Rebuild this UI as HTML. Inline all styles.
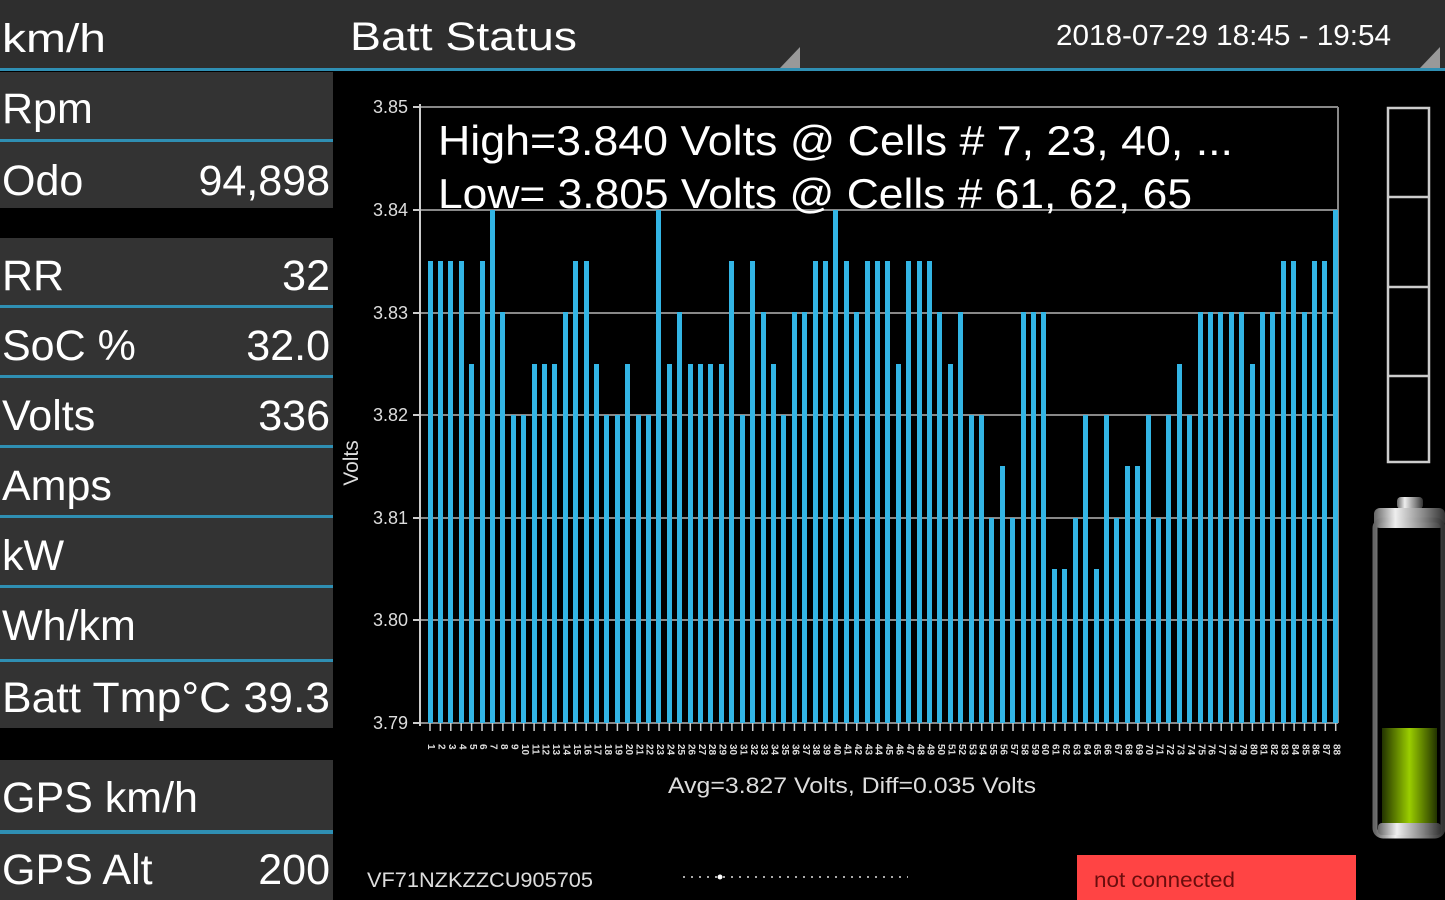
<!DOCTYPE html>
<html><head><meta charset="utf-8"><style>
html,body{margin:0;padding:0;background:#000;}
body{width:1445px;height:900px;position:relative;overflow:hidden;font-family:"Liberation Sans",sans-serif;}
#bars{position:absolute;left:424.8px;top:0;width:916px;height:723px;display:flex;align-items:flex-end;}
#bars div{flex:0 0 10.41px;height:100%;display:flex;align-items:flex-end;justify-content:center;}
#bars div i{display:block;width:5px;background:#33b5e5;}
#xl{position:absolute;left:424.8px;top:744px;width:916px;display:flex;}
#xl span{flex:0 0 10.41px;writing-mode:vertical-rl;font-size:10px;font-weight:bold;color:#ddd;line-height:10.41px;text-align:left;}
</style></head><body>
<svg width="1445" height="900" style="position:absolute;left:0;top:0" xmlns="http://www.w3.org/2000/svg" font-family="Liberation Sans, sans-serif">
<rect x="0" y="0" width="1445" height="900" fill="#000"/>
<rect x="0" y="0" width="1445" height="69" fill="#2e2e2e"/>
<rect x="0" y="68" width="1445" height="3" fill="#2f8fb3"/>
<polygon points="780,68 800,68 800,47" fill="#999"/>
<polygon points="1420,68 1440,68 1440,47" fill="#999"/>
<text x="2" y="52" font-size="40" fill="#fff" textLength="104" lengthAdjust="spacingAndGlyphs">km/h</text>
<text x="350" y="50" font-size="40" fill="#fff" textLength="227" lengthAdjust="spacingAndGlyphs">Batt Status</text>
<text x="1056" y="45" font-size="29" fill="#fff" textLength="335" lengthAdjust="spacingAndGlyphs">2018-07-29 18:45 - 19:54</text>
<g fill="#333">
<rect x="0" y="72" width="333" height="67"/>
<rect x="0" y="142" width="333" height="66"/>
<rect x="0" y="238" width="333" height="67"/>
<rect x="0" y="308" width="333" height="67"/>
<rect x="0" y="378" width="333" height="67"/>
<rect x="0" y="448" width="333" height="67"/>
<rect x="0" y="518" width="333" height="67"/>
<rect x="0" y="588" width="333" height="71"/>
<rect x="0" y="662" width="333" height="66"/>
<rect x="0" y="760" width="333" height="70"/>
<rect x="0" y="834" width="333" height="66"/>
</g>
<g fill="#2f8fb3">
<rect x="0" y="139" width="333" height="3"/>
<rect x="0" y="305" width="333" height="3"/>
<rect x="0" y="375" width="333" height="3"/>
<rect x="0" y="445" width="333" height="3"/>
<rect x="0" y="515" width="333" height="3"/>
<rect x="0" y="585" width="333" height="3"/>
<rect x="0" y="659" width="333" height="3"/>
<rect x="0" y="830" width="333" height="4"/>
</g>
<g font-size="43" fill="#fff">
<text x="2" y="123">Rpm</text>
<text x="2" y="195">Odo</text><text x="330" y="195" text-anchor="end">94,898</text>
<text x="2" y="290">RR</text><text x="330" y="290" text-anchor="end">32</text>
<text x="2" y="360">SoC %</text><text x="330" y="360" text-anchor="end">32.0</text>
<text x="2" y="430">Volts</text><text x="330" y="430" text-anchor="end">336</text>
<text x="2" y="500">Amps</text>
<text x="2" y="570">kW</text>
<text x="2" y="640">Wh/km</text>
<text x="2" y="712" textLength="328" lengthAdjust="spacingAndGlyphs">Batt Tmp°C 39.3</text>
<text x="2" y="812">GPS km/h</text>
<text x="2" y="884">GPS Alt</text><text x="330" y="884" text-anchor="end">200</text>
</g>
<g stroke="#888" stroke-width="2">
<line x1="420" y1="107" x2="1338" y2="107"/>
<line x1="1338" y1="107" x2="1338" y2="723"/>
<line x1="420" y1="210" x2="1338" y2="210"/>
<line x1="420" y1="313" x2="1338" y2="313"/>
<line x1="420" y1="415" x2="1338" y2="415"/>
<line x1="420" y1="518" x2="1338" y2="518"/>
<line x1="420" y1="620" x2="1338" y2="620"/>
<line x1="420" y1="723" x2="1338" y2="723"/>
</g>
<g stroke="#ccc" stroke-width="2">
<line x1="420" y1="104" x2="420" y2="726"/>
<line x1="413" y1="107" x2="420" y2="107"/>
<line x1="413" y1="210" x2="420" y2="210"/>
<line x1="413" y1="313" x2="420" y2="313"/>
<line x1="413" y1="415" x2="420" y2="415"/>
<line x1="413" y1="518" x2="420" y2="518"/>
<line x1="413" y1="620" x2="420" y2="620"/>
<line x1="413" y1="723" x2="420" y2="723"/>
</g>
<g font-size="18" fill="#ddd" text-anchor="end">
<text x="408" y="113">3.85</text><text x="408" y="216">3.84</text><text x="408" y="319">3.83</text>
<text x="408" y="421">3.82</text><text x="408" y="524">3.81</text><text x="408" y="626">3.80</text><text x="408" y="729">3.79</text>
</g>
<text transform="translate(358,463) rotate(-90)" font-size="21" fill="#ddd" text-anchor="middle">Volts</text>
<text x="852" y="793" font-size="22" fill="#ddd" text-anchor="middle" textLength="368" lengthAdjust="spacingAndGlyphs">Avg=3.827 Volts, Diff=0.035 Volts</text>
<text x="367" y="887" font-size="21" fill="#ddd" textLength="226" lengthAdjust="spacingAndGlyphs">VF71NZKZZCU905705</text>
<line x1="683" y1="877" x2="908" y2="877" stroke="#aaa" stroke-width="2" stroke-dasharray="2,6"/>
<circle cx="720" cy="877" r="2.5" fill="#fff"/>
<rect x="1077" y="855" width="279" height="45" fill="#ff4444"/>
<text x="1094" y="887" font-size="21" fill="#6a0d0d" textLength="141" lengthAdjust="spacingAndGlyphs">not connected</text>
<g fill="none" stroke="#ccc" stroke-width="2.5">
<rect x="1388" y="108" width="41" height="354"/>
<line x1="1388" y1="197" x2="1429" y2="197"/>
<line x1="1388" y1="287" x2="1429" y2="287"/>
<line x1="1388" y1="376" x2="1429" y2="376"/>
</g>
<defs>
<linearGradient id="g1" x1="0" x2="1"><stop offset="0" stop-color="#223300"/><stop offset="0.5" stop-color="#9acd00"/><stop offset="1" stop-color="#223300"/></linearGradient>
<linearGradient id="g2" x1="0" x2="1"><stop offset="0" stop-color="#666"/><stop offset="0.3" stop-color="#eee"/><stop offset="0.7" stop-color="#888"/><stop offset="1" stop-color="#333"/></linearGradient>
</defs>
<rect x="1397" y="497" width="26" height="12" rx="4" fill="url(#g2)"/>
<rect x="1374" y="508" width="71" height="20" rx="6" fill="url(#g2)"/>
<rect x="1375" y="520" width="68" height="316" rx="8" fill="none" stroke="url(#g2)" stroke-width="5"/>
<rect x="1382" y="728" width="55" height="97" fill="url(#g1)"/>
<rect x="1378" y="823" width="63" height="12" rx="4" fill="url(#g2)"/>
</svg>
<div id="bars">
<div><i style="height:462px"></i></div><div><i style="height:462px"></i></div><div><i style="height:462px"></i></div><div><i style="height:462px"></i></div><div><i style="height:359px"></i></div><div><i style="height:462px"></i></div><div><i style="height:513px"></i></div><div><i style="height:411px"></i></div><div><i style="height:308px"></i></div><div><i style="height:308px"></i></div>
<div><i style="height:359px"></i></div><div><i style="height:359px"></i></div><div><i style="height:359px"></i></div><div><i style="height:411px"></i></div><div><i style="height:462px"></i></div><div><i style="height:462px"></i></div><div><i style="height:359px"></i></div><div><i style="height:308px"></i></div><div><i style="height:308px"></i></div><div><i style="height:359px"></i></div>
<div><i style="height:308px"></i></div><div><i style="height:308px"></i></div><div><i style="height:513px"></i></div><div><i style="height:359px"></i></div><div><i style="height:411px"></i></div><div><i style="height:359px"></i></div><div><i style="height:359px"></i></div><div><i style="height:359px"></i></div><div><i style="height:359px"></i></div><div><i style="height:462px"></i></div>
<div><i style="height:308px"></i></div><div><i style="height:462px"></i></div><div><i style="height:411px"></i></div><div><i style="height:359px"></i></div><div><i style="height:308px"></i></div><div><i style="height:411px"></i></div><div><i style="height:411px"></i></div><div><i style="height:462px"></i></div><div><i style="height:462px"></i></div><div><i style="height:513px"></i></div>
<div><i style="height:462px"></i></div><div><i style="height:411px"></i></div><div><i style="height:462px"></i></div><div><i style="height:462px"></i></div><div><i style="height:462px"></i></div>
<div><i style="height:359px"></i></div><div><i style="height:462px"></i></div><div><i style="height:462px"></i></div><div><i style="height:462px"></i></div><div><i style="height:411px"></i></div><div><i style="height:359px"></i></div><div><i style="height:411px"></i></div><div><i style="height:308px"></i></div><div><i style="height:308px"></i></div><div><i style="height:205px"></i></div>
<div><i style="height:257px"></i></div><div><i style="height:205px"></i></div><div><i style="height:411px"></i></div><div><i style="height:411px"></i></div><div><i style="height:411px"></i></div><div><i style="height:154px"></i></div><div><i style="height:154px"></i></div><div><i style="height:205px"></i></div><div><i style="height:308px"></i></div><div><i style="height:154px"></i></div>
<div><i style="height:308px"></i></div><div><i style="height:205px"></i></div><div><i style="height:257px"></i></div><div><i style="height:257px"></i></div><div><i style="height:308px"></i></div><div><i style="height:205px"></i></div><div><i style="height:308px"></i></div><div><i style="height:359px"></i></div><div><i style="height:308px"></i></div><div><i style="height:411px"></i></div>
<div><i style="height:411px"></i></div><div><i style="height:411px"></i></div><div><i style="height:411px"></i></div><div><i style="height:411px"></i></div><div><i style="height:359px"></i></div><div><i style="height:411px"></i></div><div><i style="height:411px"></i></div><div><i style="height:462px"></i></div><div><i style="height:462px"></i></div><div><i style="height:411px"></i></div>
<div><i style="height:462px"></i></div><div><i style="height:462px"></i></div><div><i style="height:513px"></i></div>
</div>
<svg width="1445" height="900" style="position:absolute;left:0;top:0" xmlns="http://www.w3.org/2000/svg" font-family="Liberation Sans, sans-serif">
<text x="438" y="155" font-size="42" fill="#fff" textLength="795" lengthAdjust="spacingAndGlyphs">High=3.840 Volts @ Cells # 7, 23, 40,  ...</text>
<text x="438" y="208" font-size="42" fill="#fff" textLength="754" lengthAdjust="spacingAndGlyphs">Low= 3.805 Volts @ Cells # 61, 62, 65</text>
<g stroke="#ccc" stroke-width="1.5">
<path d="M430 723v8M440.4 723v8M450.8 723v8M461.2 723v8M471.6 723v8M482 723v8M492.5 723v8M502.9 723v8M513.3 723v8M523.7 723v8M534.1 723v8M544.5 723v8M555 723v8M565.3 723v8M575.7 723v8M586.2 723v8M596.6 723v8M607 723v8M617.4 723v8M627.8 723v8M638.2 723v8M648.6 723v8M659 723v8M669.4 723v8M679.8 723v8M690.3 723v8M700.7 723v8M711.1 723v8M721.5 723v8M731.9 723v8M742.3 723v8M752.7 723v8M763.1 723v8M773.5 723v8M784 723v8M794.4 723v8M804.8 723v8M815.2 723v8M825.6 723v8M836 723v8M846.4 723v8M856.8 723v8M867.2 723v8M877.6 723v8M888 723v8M898.5 723v8M908.9 723v8M919.3 723v8M929.7 723v8M940.1 723v8M950.5 723v8M960.9 723v8M971.3 723v8M981.7 723v8M992.2 723v8M1002.6 723v8M1013 723v8M1023.4 723v8M1033.8 723v8M1044.2 723v8M1054.6 723v8M1065 723v8M1075.4 723v8M1085.8 723v8M1096.3 723v8M1106.7 723v8M1117.1 723v8M1127.5 723v8M1137.9 723v8M1148.3 723v8M1158.7 723v8M1169.1 723v8M1179.5 723v8M1190 723v8M1200.4 723v8M1210.8 723v8M1221.2 723v8M1231.6 723v8M1242 723v8M1252.4 723v8M1262.8 723v8M1273.2 723v8M1283.7 723v8M1294.1 723v8M1304.5 723v8M1314.9 723v8M1325.3 723v8M1335.7 723v8"/>
</g>
</svg>
<div id="xl">
<span>1</span><span>2</span><span>3</span><span>4</span><span>5</span><span>6</span><span>7</span><span>8</span><span>9</span><span>10</span><span>11</span><span>12</span><span>13</span><span>14</span><span>15</span><span>16</span><span>17</span><span>18</span><span>19</span><span>20</span><span>21</span><span>22</span><span>23</span><span>24</span><span>25</span><span>26</span><span>27</span><span>28</span><span>29</span><span>30</span><span>31</span><span>32</span><span>33</span><span>34</span><span>35</span><span>36</span><span>37</span><span>38</span><span>39</span><span>40</span><span>41</span><span>42</span><span>43</span><span>44</span><span>45</span><span>46</span><span>47</span><span>48</span><span>49</span><span>50</span><span>51</span><span>52</span><span>53</span><span>54</span><span>55</span><span>56</span><span>57</span><span>58</span><span>59</span><span>60</span><span>61</span><span>62</span><span>63</span><span>64</span><span>65</span><span>66</span><span>67</span><span>68</span><span>69</span><span>70</span><span>71</span><span>72</span><span>73</span><span>74</span><span>75</span><span>76</span><span>77</span><span>78</span><span>79</span><span>80</span><span>81</span><span>82</span><span>83</span><span>84</span><span>85</span><span>86</span><span>87</span><span>88</span>
</div>
</body></html>
